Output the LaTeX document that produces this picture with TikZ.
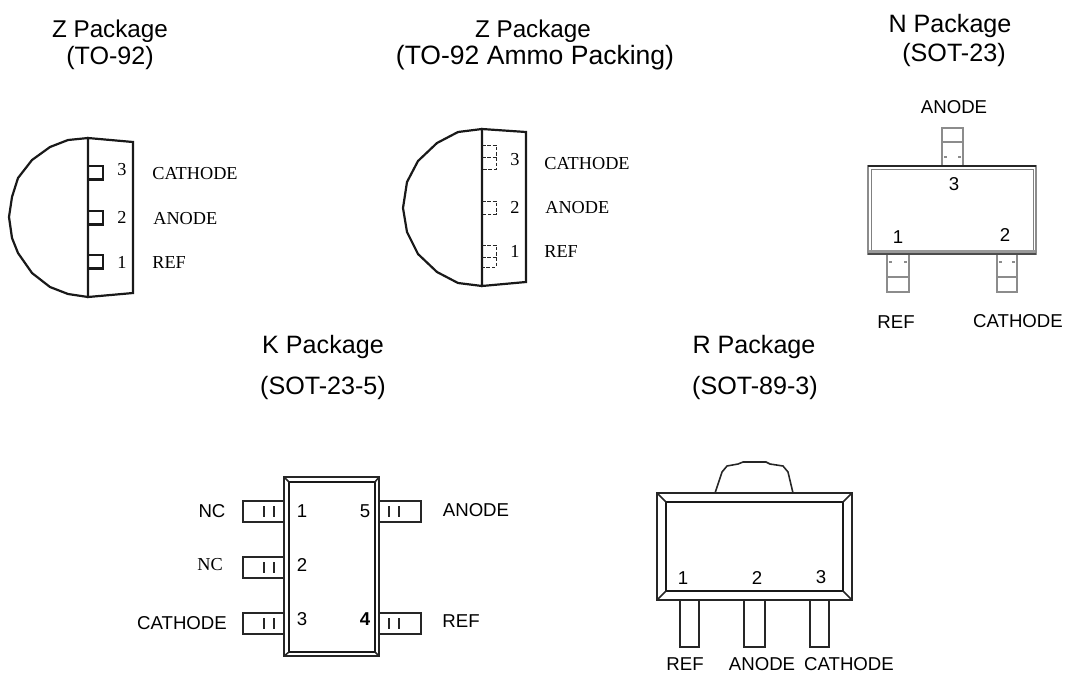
\documentclass[tikz,border=0pt]{standalone}
\usepackage{fontspec}
\setmainfont{Liberation Sans}
\newfontfamily\serifface{Liberation Serif}
\tikzset{
	title/.style={font=\fontsize{14.3}{16}\selectfont,inner sep=0pt},
	lbl/.style={font=\fontsize{10.6}{12}\selectfont,inner sep=0pt},
	slbl/.style={font=\serifface\fontsize{10.4}{12}\selectfont,inner sep=0pt},
	body/.style={line width=1.25pt,black!90},
	pin/.style={line width=0.9pt,black!85},
	lead/.style={line width=0.8pt,black!45},
	hidden/.style={line width=0.55pt,black!85,dash pattern=on 2pt off 1pt}
}
\begin{document}
\begin{tikzpicture}[x=0.02cm,y=-0.02cm]
		\useasboundingbox (0,0) rectangle (1068,677);
		% titles
		\node[title,font=\fontsize{13.8}{16}\selectfont] (za) at (110,31) {Z Package};
		\node[title] (zb) at (110,58) {(TO-92)};
		\node[title,font=\fontsize{13.8}{16}\selectfont] (zc) at (533,31) {Z Package};
		\node[title,font=\fontsize{15.1}{17}\selectfont] (zd) at (535,58) {(TO-92 Ammo Packing)};
		\node[title] (na) at (950,26) {N Package};
		\node[title] (nb) at (954,55) {(SOT-23)};
		\node[title] (ka) at (323,347) {K Package};
		\node[title] (kb) at (323,388) {(SOT-23-5)};
		\node[title] (ra) at (754,347) {R Package};
		\node[title] (rb) at (755,388) {(SOT-89-3)};
		% TO-92
		\draw[body] (88,138) -- (88,297) -- (133,293) -- (133,142) -- cycle;
		\draw[body] (88,138) -- (68,140) -- (50,147) -- (32,160) -- (18,178) -- (12,197) -- (9,217) -- (12,238) -- (18,253) -- (32,273) -- (50,287) -- (68,294) -- (88,297);
		\foreach \y in {166,211,255}
			\draw[body] (88,\y) -- (103,\y) -- (103,\y+13.5) -- (88,\y+13.5);
		\node[slbl] (za3) at (122,170) {3};
		\node[slbl] (za2) at (122,217) {2};
		\node[slbl] (za1) at (122,262) {1};
		\node[slbl,right] (zaC) at (152,174) {CATHODE};
		\node[slbl,right] (zaA) at (153,219) {ANODE};
		\node[slbl,right] (zaR) at (152,263) {REF};
		% TO-92 ammo
		\draw[body] (482,129) -- (482,286) -- (526,282) -- (526,132) -- cycle;
		\draw[body] (482,129) -- (458,132) -- (437,143) -- (418,161) -- (407,182) -- (403,208) -- (407,232) -- (418,254) -- (437,272) -- (458,283) -- (482,286);
		\draw[hidden] (482,145) -- (496,145) -- (496,169) -- (482,169);
		\draw[hidden] (482,157) -- (496,157);
		\draw[hidden] (482,201) -- (496,201) -- (496,214) -- (482,214);
		\draw[hidden] (482,245) -- (496,245) -- (496,267) -- (482,267);
		\draw[hidden] (482,257) -- (496,257);
		\node[slbl] (zc3) at (515,160) {3};
		\node[slbl] (zc2) at (515,207) {2};
		\node[slbl] (zc1) at (515,251) {1};
		\node[slbl,right] (zcC) at (544,164) {CATHODE};
		\node[slbl,right] (zcA) at (545,208) {ANODE};
		\node[slbl,right] (zcR) at (544,252) {REF};
		% SOT-23
		\draw[lead] (942,165) -- (942,128) -- (963,128) -- (963,165);
		\draw[lead] (942,142) -- (963,142);
		\draw[lead] (944,157) -- (947,157) (958,157) -- (961,157);
		\draw[lead] (887,255) -- (887,292) -- (909,292) -- (909,255);
		\draw[lead] (887,277) -- (909,277);
		\draw[lead] (889,262) -- (892,262) (904,262) -- (907,262);
		\draw[lead] (997,255) -- (997,292) -- (1017,292) -- (1017,255);
		\draw[lead] (997,277) -- (1017,277);
		\draw[lead] (999,262) -- (1002,262) (1012,262) -- (1015,262);
		\draw[line width=0.5pt,black!50] (871,169) rectangle (1033,250);
		\fill[black!40] (868,250) rectangle (1036,254);
		\draw[line width=1.4pt,black!45] (868,166) rectangle (1036,254);
		\draw[line width=0.9pt,black!85] (868,166) -- (1036,166);
		\draw[line width=1pt,black!70] (868,254) -- (1036,254);
		\node[lbl] (n3) at (954,184) {3};
		\node[lbl] (n1) at (898,237) {1};
		\node[lbl] (n2) at (1005,235) {2};
		\node[lbl] (nA) at (954,107) {ANODE};
		\node[lbl] (nR) at (896,322) {REF};
		\node[lbl] (nC) at (1018,321) {CATHODE};
		% SOT-23-5
		\foreach \y in {501,557,613} {
			\draw[pin] (284,\y) -- (243,\y) -- (243,\y+21) -- (284,\y+21);
			\draw[pin] (264,\y+5) -- (264,\y+16);
			\draw[pin] (274,\y+5) -- (274,\y+16);
		}
		\foreach \y in {501,613} {
			\draw[pin] (379,\y) -- (421,\y) -- (421,\y+21) -- (379,\y+21);
			\draw[pin] (389,\y+5) -- (389,\y+16);
			\draw[pin] (399,\y+5) -- (399,\y+16);
		}
		\draw[pin] (284,477) rectangle (379,656);
		\draw[body] (289,482) rectangle (375,652);
		\draw[pin] (284,477) -- (289,482);
		\draw[pin] (379,477) -- (375,482);
		\draw[pin] (284,656) -- (289,652);
		\draw[pin] (379,656) -- (375,652);
		\node[lbl] (k1) at (302,511) {1};
		\node[lbl] (k2) at (302,565) {2};
		\node[lbl] (k3) at (302,619) {3};
		\node[lbl] (k5) at (365,511) {5};
		\node[lbl,font=\fontsize{10.6}{12}\selectfont\bfseries] (k4) at (365,619) {4};
		\node[lbl] (kN) at (212,511) {NC};
		\node[slbl] (kM) at (210,565) {NC};
		\node[lbl] (kC) at (182,623) {CATHODE};
		\node[lbl] (kA) at (476,510) {ANODE};
		\node[lbl] (kR) at (461,621) {REF};
		% SOT-89-3
		\draw[pin] (715,493) -- (722,472) -- (727,466) -- (738,464) -- (743,462) -- (766,462) -- (770,464) -- (783,466) -- (788,472) -- (793,493);
		\draw[pin] (657,493) rectangle (852,600);
		\draw[body] (666,502) rectangle (843,591);
		\draw[pin] (657,493) -- (666,502);
		\draw[pin] (852,493) -- (843,502);
		\draw[pin] (657,600) -- (666,591);
		\draw[pin] (852,600) -- (843,591);
		\draw[pin] (680,600) -- (680,647) -- (699,647) -- (699,600);
		\draw[pin] (744,600) -- (744,647) -- (765,647) -- (765,600);
		\draw[pin] (810,600) -- (810,647) -- (829,647) -- (829,600);
		\node[lbl] (r1) at (683,578) {1};
		\node[lbl] (r2) at (757,578) {2};
		\node[lbl] (r3) at (821,577) {3};
		\node[lbl] (rR) at (685,664) {REF};
		\node[lbl] (rA) at (762,664) {ANODE};
		\node[lbl] (rC) at (849,664) {CATHODE};
\end{tikzpicture}
\end{document}
